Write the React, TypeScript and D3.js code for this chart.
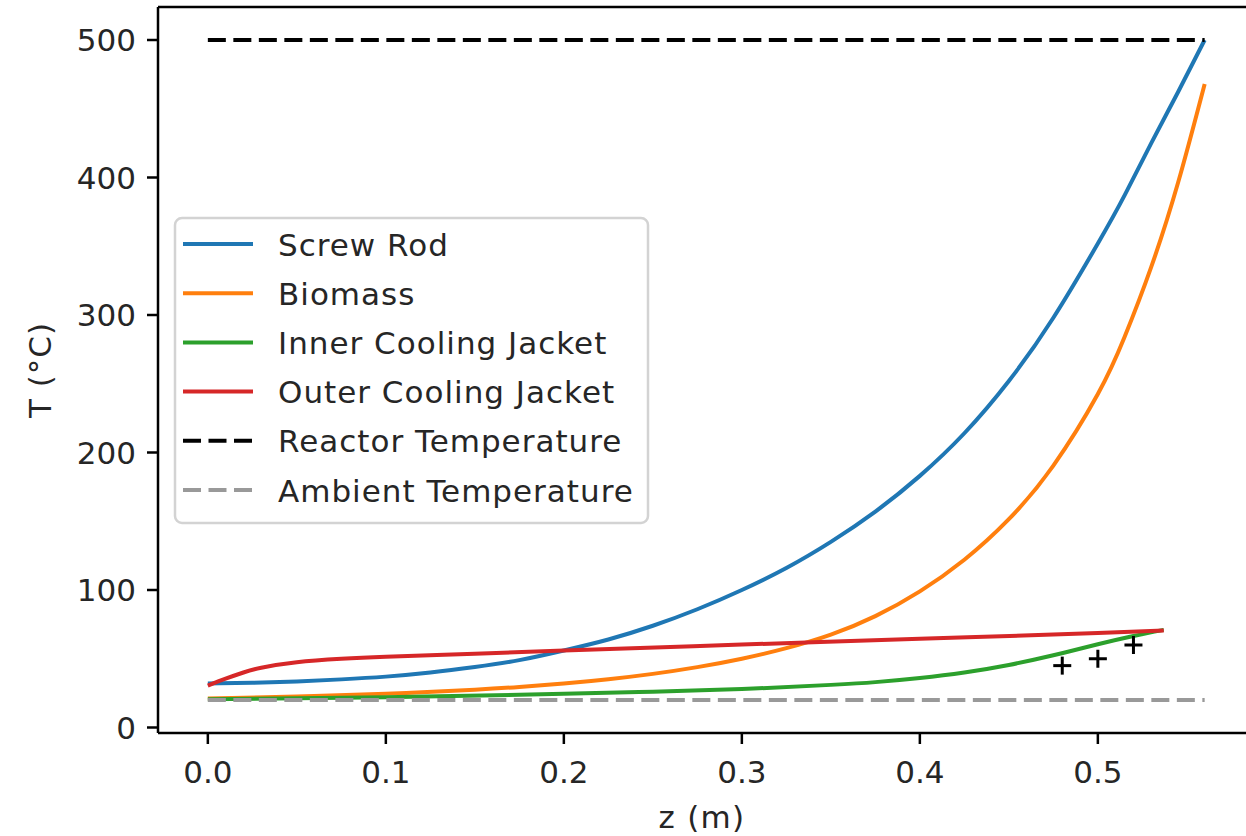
import * as d3 from 'd3';

// axial position (m) and temperature (°C)
const rodZ = [0, 0.025, 0.05, 0.075, 0.1, 0.125, 0.15, 0.175, 0.2, 0.225, 0.25, 0.275, 0.3, 0.325, 0.35, 0.375, 0.4, 0.425, 0.45, 0.475, 0.5, 0.515, 0.53, 0.545, 0.56];
const rodT = [32, 32.5, 33.5, 35, 37, 40, 44, 49, 56, 64, 74, 86, 100, 116, 135, 157, 183, 214, 252, 298, 352, 387, 425, 462, 500];

const biomassZ = [0, 0.05, 0.1, 0.15, 0.175, 0.2, 0.225, 0.25, 0.275, 0.3, 0.325, 0.35, 0.375, 0.4, 0.425, 0.45, 0.475, 0.5, 0.515, 0.53, 0.545, 0.56];
const biomassT = [21, 22.5, 24.5, 27.5, 29.5, 32, 35.1, 39, 43.9, 50, 57.7, 67.5, 81, 99, 122, 151.5, 190.5, 242.5, 284, 335, 396, 468];

const innerZ = [0, 0.1, 0.2, 0.25, 0.3, 0.35, 0.375, 0.4, 0.425, 0.45, 0.475, 0.5, 0.52, 0.537];
const innerT = [20.5, 22, 24.5, 26, 28, 31, 33, 36, 40, 45.5, 52.5, 60.5, 66.5, 71];

const outerZ = [0, 0.01, 0.02, 0.03, 0.05, 0.075, 0.1, 0.15, 0.2, 0.3, 0.4, 0.5, 0.537];
const outerT = [30.5, 35.5, 40, 43.5, 47.5, 50, 51.5, 53.7, 56, 60.3, 64.5, 68.7, 70.5];

const reactorZ = [0, 0.56];
const reactorT = [500, 500];
const ambientZ = [0, 0.56];
const ambientT = [20, 20];

const measuredZ = [0.48, 0.5, 0.52];
const measuredT = [45, 50, 60];

const xTicks = [0, 0.1, 0.2, 0.3, 0.4, 0.5];
const yTicks = [0, 100, 200, 300, 400, 500];

const series = [
  { label: 'Screw Rod', z: rodZ, t: rodT, color: '#1f77b4', dash: '' },
  { label: 'Biomass', z: biomassZ, t: biomassT, color: '#ff7f0e', dash: '' },
  { label: 'Inner Cooling Jacket', z: innerZ, t: innerT, color: '#2ca02c', dash: '' },
  { label: 'Outer Cooling Jacket', z: outerZ, t: outerT, color: '#d62728', dash: '' },
  { label: 'Reactor Temperature', z: reactorZ, t: reactorT, color: '#000000', dash: '18,7.5' },
  { label: 'Ambient Temperature', z: ambientZ, t: ambientT, color: '#999999', dash: '18,7.5' },
];

const W = 1246;
const H = 836;
const font = 'DejaVu Sans, sans-serif';
const fs = 31;
const textColor = '#262626';

export default function App() {
  const left = 158, right = 1254.5, top = 7, bottom = 733;

  const x = d3.scaleLinear().domain([-0.028, 0.588]).range([left, right]);
  const y = d3.scaleLinear().domain([-4, 524]).range([bottom, top]);

  const line = d3.line<[number, number]>()
    .x(d => x(d[0]))
    .y(d => y(d[1]))
    .curve(d3.curveNatural);

  // legend layout
  const lgX = 175, lgY = 218, lgW = 473, lgH = 305;
  const rowStart = 244, rowStep = 49.2;

  return (
    <svg width={W} height={H} style={{ position: 'absolute', left: 0, top: 0, background: '#fff' }}>
      <rect x={0} y={0} width={W} height={H} fill="#fff" />

      {series.map(s => (
        <path
          key={s.label}
          d={line(s.z.map((v, i) => [v, s.t[i]] as [number, number])) || ''}
          fill="none"
          stroke={s.color}
          strokeWidth={4}
          strokeDasharray={s.dash || undefined}
        />
      ))}

      {/* measured points */}
      {measuredZ.map((v, i) => (
        <g key={i} transform={`translate(${x(v)},${y(measuredT[i])})`} stroke="#000" strokeWidth={3}>
          <line x1={-9} x2={9} y1={0} y2={0} />
          <line x1={0} x2={0} y1={-9} y2={9} />
        </g>
      ))}

      {/* spines */}
      <g stroke="#000" strokeWidth={2.5} fill="none">
        <line x1={left} x2={left} y1={top} y2={bottom} />
        <line x1={left} x2={right} y1={bottom} y2={bottom} />
        <line x1={left} x2={right} y1={top} y2={top} />
        <line x1={right} x2={right} y1={top} y2={bottom} />
      </g>

      {/* x axis */}
      {xTicks.map(t => (
        <g key={t} transform={`translate(${x(t)},0)`}>
          <line y1={bottom} y2={bottom + 11} stroke="#000" strokeWidth={2.5} />
          <text y={783} textAnchor="middle" fontFamily={font} fontSize={fs} fill={textColor}>
            {t.toFixed(1)}
          </text>
        </g>
      ))}
      <text x={702} y={828} textAnchor="middle" fontFamily={font} fontSize={fs} letterSpacing={1.3} fill={textColor}>z (m)</text>

      {/* y axis */}
      {yTicks.map(t => (
        <g key={t} transform={`translate(0,${y(t)})`}>
          <line x1={left - 11} x2={left} stroke="#000" strokeWidth={2.5} />
          <text x={136} y={11.3} textAnchor="end" fontFamily={font} fontSize={fs} fill={textColor}>
            {t}
          </text>
        </g>
      ))}
      <text
        transform={`translate(51,${(top + bottom) / 2}) rotate(-90)`}
        textAnchor="middle"
        fontFamily={font}
        fontSize={fs}
        letterSpacing={1}
        fill={textColor}
      >
        T (°C)
      </text>

      {/* legend */}
      <rect x={lgX} y={lgY} width={lgW} height={lgH} rx={7} ry={7}
        fill="#fff" fillOpacity={0.8} stroke="#d3d3d3" strokeWidth={2.5} />
      {series.map((s, i) => {
        const cy = rowStart + i * rowStep;
        return (
          <g key={s.label}>
            <line x1={183} x2={253} y1={cy} y2={cy} stroke={s.color} strokeWidth={4}
              strokeDasharray={s.dash || undefined} />
            <text x={278} y={cy + 11.5} fontFamily={font} fontSize={fs} letterSpacing={1}
              fill={textColor}>{s.label}</text>
          </g>
        );
      })}
    </svg>
  );
}
